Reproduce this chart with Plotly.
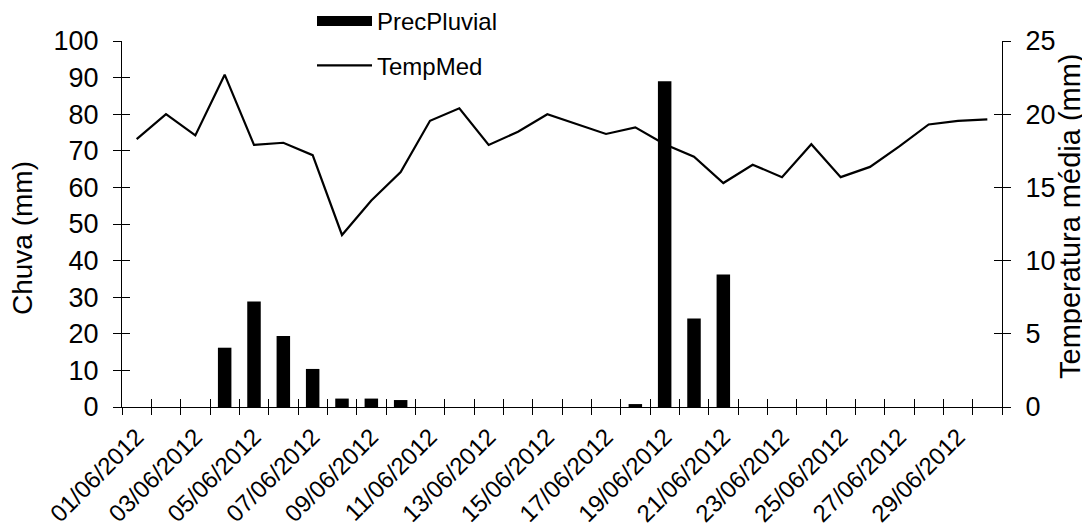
import plotly.graph_objects as go

dates = ["01/06/2012", "02/06/2012", "03/06/2012", "04/06/2012", "05/06/2012",
         "06/06/2012", "07/06/2012", "08/06/2012", "09/06/2012", "10/06/2012",
         "11/06/2012", "12/06/2012", "13/06/2012", "14/06/2012", "15/06/2012",
         "16/06/2012", "17/06/2012", "18/06/2012", "19/06/2012", "20/06/2012",
         "21/06/2012", "22/06/2012", "23/06/2012", "24/06/2012", "25/06/2012",
         "26/06/2012", "27/06/2012", "28/06/2012", "29/06/2012", "30/06/2012"]

prec_pluvial = [0, 0, 0, 16.2, 28.8, 19.4, 10.4, 2.3, 2.3, 1.9,
                0, 0, 0, 0, 0, 0, 0, 0.8, 89.0, 24.2,
                36.2, 0, 0, 0, 0, 0, 0, 0, 0, 0]

temp_med = [18.3, 20.0, 18.55, 22.7, 17.9, 18.05, 17.2, 11.75, 14.1, 16.05,
            19.55, 20.4, 17.9, 18.8, 20.0, 19.3, 18.65, 19.1, 17.95, 17.1,
            15.3, 16.55, 15.7, 17.95, 15.7, 16.4, 17.8, 19.3, 19.55, 19.65]

label_dates = dates[::2]

left_title = "Chuva (mm)"
right_title = "Temperatura média (mm)"

FONT = "Liberation Sans, Arial, sans-serif"
n = len(dates)

fig = go.Figure()
# main line (temperature, right axis)
fig.add_trace(go.Scatter(
    x=dates, y=temp_med, name="TempMed", mode="lines",
    line=dict(color="black", width=2.2), xaxis="x", yaxis="y",
    showlegend=False,
))
# bars (rain, left axis) drawn above the line
fig.add_trace(go.Bar(
    x=dates, y=prec_pluvial, name="PrecPluvial",
    marker=dict(color="black", line=dict(width=0)), xaxis="x", yaxis="y2",
    showlegend=False,
))
# legend entries
fig.add_trace(go.Scatter(
    x=[None], y=[None], name="PrecPluvial", mode="lines",
    line=dict(color="black", width=17), xaxis="x", yaxis="y2",
    legendgroup="a", hoverinfo="skip",
))
fig.add_trace(go.Scatter(
    x=[None], y=[None], name="TempMed", mode="lines",
    line=dict(color="black", width=2.2), xaxis="x", yaxis="y",
    legendgroup="b", hoverinfo="skip",
))
# invisible helpers so the overlay axes (crossing ticks, date labels) are drawn
helper = dict(mode="lines", line=dict(width=0, color="rgba(0,0,0,0)"),
              opacity=0, showlegend=False, hoverinfo="skip")
fig.add_trace(go.Scatter(x=dates, y=temp_med, xaxis="x2", yaxis="y", **helper))
fig.add_trace(go.Scatter(x=dates, y=temp_med, xaxis="x3", yaxis="y", **helper))
fig.add_trace(go.Scatter(x=dates, y=prec_pluvial, xaxis="x", yaxis="y3", **helper))
fig.add_trace(go.Scatter(x=dates, y=temp_med, xaxis="x", yaxis="y4", **helper))

tick_font = dict(family=FONT, size=27, color="black")

fig.update_layout(
    width=1082, height=524,
    margin=dict(l=114, r=88, t=33, b=125, autoexpand=False),
    paper_bgcolor="white", plot_bgcolor="white",
    font=dict(family=FONT, color="black"),
    bargap=0.54,
    showlegend=True,
    legend=dict(
        x=(312 - 122) / 880, y=(407 + 1) / 366, xanchor="left", yanchor="top",
        font=dict(family=FONT, size=24, color="black"),
        bgcolor="rgba(0,0,0,0)", itemwidth=55,
        traceorder="grouped", tracegroupgap=10,
    ),
    xaxis=dict(
        type="category", range=[-0.5, n - 0.5],
        showline=True, linecolor="black", linewidth=1.2,
        ticks="outside", tickson="boundaries", ticklen=7, tickcolor="black",
        tickmode="array", tickvals=dates,
        showticklabels=False, showgrid=False, zeroline=False,
    ),
    xaxis2=dict(
        type="category", overlaying="x", anchor="y", range=[-0.5, n - 0.5],
        tickmode="array", tickvals=dates, tickson="boundaries",
        ticks="inside", ticklen=8, tickcolor="black",
        showticklabels=False, showline=False, showgrid=False, zeroline=False,
    ),
    xaxis3=dict(
        type="category", overlaying="x", anchor="y", side="bottom",
        range=[-0.5, n - 0.5],
        tickmode="array", tickvals=label_dates, ticktext=label_dates,
        ticks="", tickangle=-45,
        tickfont=dict(family=FONT, size=24, color="black"),
        ticklabelstandoff=10,
        showline=False, showgrid=False, zeroline=False,
    ),
    yaxis=dict(
        side="right", anchor="x", range=[0, 25], dtick=5, tick0=0,
        showline=True, linecolor="black", linewidth=1.2,
        ticks="outside", ticklen=8, tickcolor="black",
        tickfont=tick_font, ticklabelstandoff=9,
        showgrid=False, zeroline=False,
    ),
    yaxis2=dict(
        overlaying="y", side="left", anchor="x", range=[0, 100], dtick=10, tick0=0,
        showline=True, linecolor="black", linewidth=1.2,
        ticks="outside", ticklen=8, tickcolor="black",
        tickfont=tick_font, ticklabelstandoff=9,
        showgrid=False, zeroline=False,
    ),
    yaxis3=dict(
        overlaying="y", side="left", anchor="x", range=[0, 100], dtick=10, tick0=0,
        ticks="inside", ticklen=8, tickcolor="black",
        showticklabels=False, showline=False, showgrid=False, zeroline=False,
    ),
    yaxis4=dict(
        overlaying="y", side="right", anchor="x", range=[0, 25], dtick=5, tick0=0,
        ticks="inside", ticklen=8, tickcolor="black",
        showticklabels=False, showline=False, showgrid=False, zeroline=False,
    ),
    annotations=[
        dict(text=left_title, textangle=-90,
             font=dict(family=FONT, size=28, color="black"), showarrow=False,
             xref="paper", yref="paper", x=(22 - 122) / 880, y=(407 - 238) / 366,
             xanchor="center", yanchor="middle"),
        dict(text=right_title, textangle=-90,
             font=dict(family=FONT, size=29, color="black"), showarrow=False,
             xref="paper", yref="paper", x=(1070 - 122) / 880, y=(407 - 216) / 366,
             xanchor="center", yanchor="middle"),
    ],
)

fig.write_html("out.html")
